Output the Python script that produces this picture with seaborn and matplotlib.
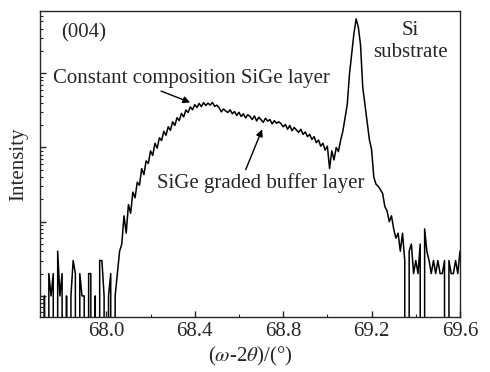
import numpy as np
import pandas as pd
import seaborn as sns
import matplotlib
matplotlib.use("Agg")
import matplotlib.pyplot as plt
from matplotlib.ticker import MultipleLocator, LogLocator, NullFormatter

# scan: omega-2theta from 67.70 to 69.60 deg, 0.01 deg step
scan_start = 67.70
scan_step = 0.01

# counts, segment by segment
noise_left = [1, 0, 1, 0, 2, 1, 2, 0, 4, 1, 2, 0, 1, 0, 1, 3, 2, 0, 2, 1,
              1, 0, 2, 2, 0, 1, 0, 3, 3, 1, 0, 1, 2, 0]
rise = [1, 2, 4, 5, 12, 7, 17, 13, 25, 21, 34, 31, 52, 43, 66, 61, 90, 78,
        114, 98, 135, 124, 165, 146, 190, 170, 222, 198, 252, 230, 288, 258,
        320, 296, 352, 322, 378, 346, 392, 355, 402, 368, 396, 372, 405, 358, 372]
hump = [345, 302, 330, 310, 296, 322, 285, 305, 270, 298, 262, 284, 250, 276,
        262, 238, 266, 228, 256, 236, 218, 248, 226, 238, 208, 230, 212, 222]
shoulder = [210, 190, 204, 176, 198, 168, 186, 172, 160, 176, 150, 162, 140,
            150, 128, 140, 116, 126, 104, 114, 92, 104, 52, 90, 68, 100, 88, 125, 165]
si_peak = [250, 380, 970, 1800, 3400, 5400, 4200, 2400, 650, 380, 225, 128, 94,
           40, 32, 30, 27, 24, 16, 14, 10, 12, 8, 6, 7, 4, 7, 3, 0, 4, 5, 2, 3,
           2, 5, 0, 8, 4, 3, 2, 3, 2, 3, 2, 2, 3, 0, 3, 2, 2, 3, 2, 4]

counts = noise_left + rise + hump + shoulder + si_peak
angle = np.round(scan_start + scan_step * np.arange(len(counts)), 3)
df = pd.DataFrame({"angle": angle, "counts": counts})

sns.set_style("ticks")
plt.rcParams["font.family"] = ["Liberation Serif", "DejaVu Serif"]
plt.rcParams["mathtext.fontset"] = "stix"

fig = plt.figure(figsize=(4.9, 3.72), dpi=100)
ax = fig.add_axes([40 / 490, 55 / 372, 420 / 490, 306 / 372])

sns.lineplot(data=df, x="angle", y="counts", color="black", linewidth=1.1,
             estimator=None, ax=ax)
ax.set_yscale("log")
ax.set_xlim(67.70, 69.60)
ax.set_ylim(0.52, 6900)

ax.xaxis.set_major_locator(MultipleLocator(0.4))
ax.xaxis.set_minor_locator(MultipleLocator(0.2))
ax.xaxis.set_major_formatter(matplotlib.ticker.FormatStrFormatter("%.1f"))
ax.yaxis.set_major_locator(LogLocator(base=10))
ax.yaxis.set_minor_locator(LogLocator(base=10, subs=np.arange(2, 10)))
ax.yaxis.set_major_formatter(NullFormatter())
ax.yaxis.set_minor_formatter(NullFormatter())
ax.tick_params(which="major", direction="in", length=4, width=1, labelsize=15)
ax.tick_params(which="minor", direction="in", length=2, width=0.8)
for s in ax.spines.values():
    s.set_linewidth(1.0)

ax.set_xlabel(r"($\omega$-2$\theta$)/(°)", fontsize=15, labelpad=3)
ax.set_ylabel("Intensity", fontsize=15, labelpad=5)

ax.text(0.05, 0.928, "(004)", transform=ax.transAxes, fontsize=15, va="center")
ax.text(0.881, 0.90, "Si\nsubstrate", transform=ax.transAxes, fontsize=15,
        ha="center", va="center", linespacing=1.2)
ax.annotate("Constant composition SiGe layer", xy=(68.379, 405),
            xytext=(0.031, 0.78), textcoords="axes fraction", fontsize=15,
            va="center",
            arrowprops=dict(arrowstyle="-|>", color="black", lw=1,
                            shrinkA=0, shrinkB=0, mutation_scale=10,
                            relpos=(0.36, 0.0)))
ax.annotate("SiGe graded buffer layer", xy=(68.705, 175),
            xytext=(0.279, 0.438), textcoords="axes fraction", fontsize=15,
            va="center",
            arrowprops=dict(arrowstyle="-|>", color="black", lw=1,
                            shrinkA=0, shrinkB=0, mutation_scale=10,
                            relpos=(0.42, 1.0)))

fig.savefig("out.png", dpi=100)
